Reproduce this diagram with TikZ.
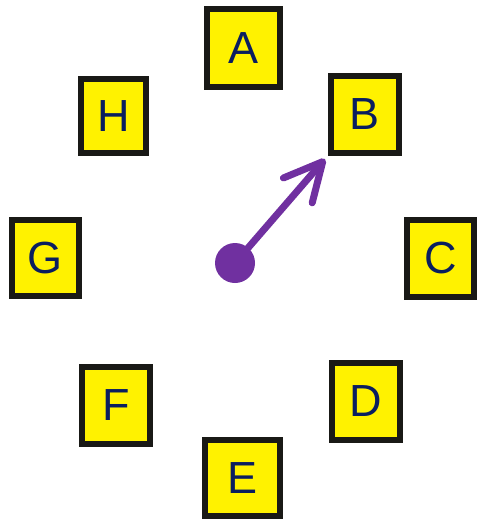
\documentclass[tikz,border=0pt]{standalone}
\usepackage{fontspec}
\setmainfont{Liberation Sans}
\usetikzlibrary{arrows.meta}
\definecolor{navy}{RGB}{10,30,95}
\definecolor{purp}{RGB}{112,48,160}
\definecolor{edgec}{RGB}{25,25,22}
\begin{document}
\begin{tikzpicture}[x=1pt,y=-1pt,
  box/.style={draw=edgec, line width=6pt, fill=yellow, text=navy,
    font=\fontsize{45}{45}\selectfont, inner sep=0pt, anchor=center,
    minimum width=68pt, minimum height=77pt}]
\useasboundingbox (0,0) rectangle (477,519);
\node[box, minimum width=73pt] (A) at (243.5,48) {A};
\node[box] (B) at (365,114.5) {B};
\node[box, minimum width=67pt] (C) at (440.5,258) {C};
\node[box] (D) at (366,401) {D};
\node[box, minimum width=75pt, minimum height=76pt] (E) at (242.5,478) {E};
\node[box] (F) at (116,405) {F};
\node[box, minimum width=67pt, minimum height=76pt] (G) at (45.5,258) {G};
\node[box, minimum width=65pt, minimum height=74pt] (H) at (113.5,116) {H};
\node[circle, fill=purp, minimum size=40pt, inner sep=0pt] (o) at (235,263) {};
\coordinate (tip) at (325,159);
\draw[purp, line width=7pt, line cap=round,
  -{Straight Barb[length=38pt, width=38pt, round]}] (o.center) -- (tip);
\end{tikzpicture}
\end{document}
